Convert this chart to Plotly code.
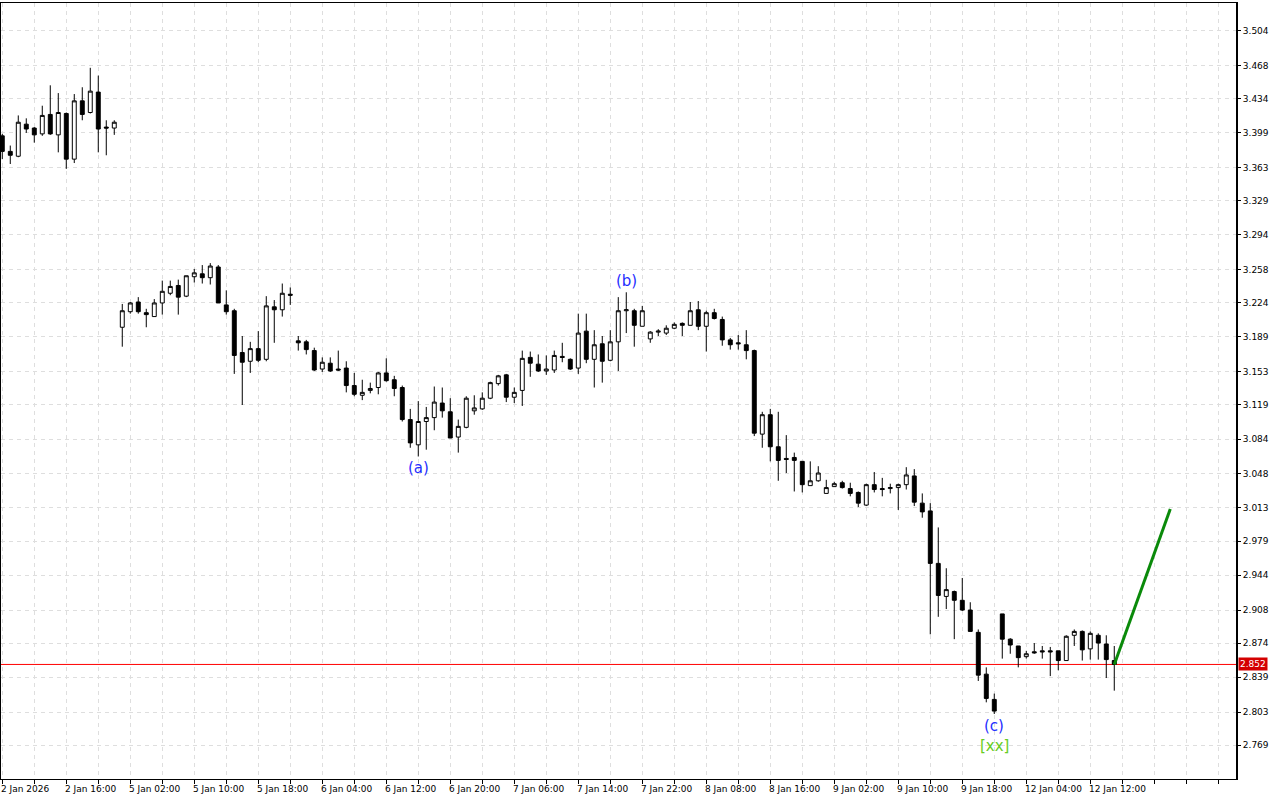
import plotly.graph_objects as go
import pandas as pd

# ---------------- data ----------------
sessions = [("2026-01-02", 8, 22), ("2026-01-05", 1, 22), ("2026-01-06", 1, 22),
            ("2026-01-07", 1, 22), ("2026-01-08", 1, 22), ("2026-01-09", 1, 22),
            ("2026-01-12", 1, 15)]

opens = [3.396, 3.380, 3.375, 3.408, 3.404, 3.398, 3.418, 3.397, 3.419, 3.372,
         3.432, 3.420, 3.441, 3.405, 3.404, 3.199, 3.215, 3.225, 3.214, 3.210,
         3.224, 3.234, 3.242, 3.231, 3.251, 3.254, 3.250, 3.261, 3.222, 3.216,
         3.173, 3.164, 3.177, 3.166, 3.220, 3.217, 3.233, 3.185, 3.184, 3.175,
         3.156, 3.162, 3.156, 3.157, 3.139, 3.129, 3.134, 3.137, 3.152, 3.145,
         3.137, 3.104, 3.078, 3.102, 3.106, 3.121, 3.112, 3.086, 3.096, 3.113,
         3.115, 3.126, 3.141, 3.150, 3.127, 3.134, 3.168, 3.161, 3.154, 3.155,
         3.169, 3.166, 3.157, 3.195, 3.166, 3.182, 3.165, 3.184, 3.216, 3.216,
         3.200, 3.187, 3.194, 3.193, 3.198, 3.203, 3.201, 3.217, 3.200, 3.214,
         3.207, 3.186, 3.183, 3.181, 3.175, 3.089, 3.109, 3.076, 3.064, 3.065,
         3.061, 3.036, 3.041, 3.028, 3.035, 3.039, 3.033, 3.029, 3.016, 3.037,
         3.033, 3.033, 3.034, 3.037, 3.046, 3.018, 3.010, 2.956, 2.922, 2.927,
         2.918, 2.908, 2.885, 2.842, 2.816, 2.904, 2.878, 2.871, 2.860, 2.865,
         2.866, 2.866, 2.866, 2.856, 2.882, 2.886, 2.868, 2.882, 2.873, 2.856]
highs = [3.398, 3.386, 3.417, 3.414, 3.405, 3.427, 3.448, 3.440, 3.420, 3.439,
         3.446, 3.466, 3.458, 3.412, 3.412, 3.223, 3.225, 3.230, 3.218, 3.228,
         3.247, 3.247, 3.248, 3.252, 3.259, 3.263, 3.265, 3.263, 3.237, 3.218,
         3.190, 3.184, 3.195, 3.231, 3.227, 3.244, 3.240, 3.190, 3.186, 3.178,
         3.168, 3.168, 3.175, 3.164, 3.152, 3.145, 3.142, 3.153, 3.167, 3.149,
         3.139, 3.115, 3.123, 3.117, 3.138, 3.137, 3.126, 3.104, 3.128, 3.129,
         3.132, 3.143, 3.150, 3.151, 3.137, 3.175, 3.174, 3.171, 3.170, 3.175,
         3.183, 3.167, 3.213, 3.213, 3.196, 3.190, 3.196, 3.230, 3.235, 3.218,
         3.221, 3.195, 3.197, 3.201, 3.204, 3.204, 3.225, 3.226, 3.216, 3.218,
         3.210, 3.188, 3.191, 3.196, 3.176, 3.112, 3.115, 3.112, 3.088, 3.070,
         3.061, 3.061, 3.056, 3.042, 3.040, 3.041, 3.039, 3.030, 3.038, 3.050,
         3.044, 3.038, 3.038, 3.055, 3.053, 3.028, 3.018, 2.993, 2.951, 2.928,
         2.941, 2.916, 2.888, 2.849, 2.822, 2.904, 2.879, 2.871, 2.866, 2.874,
         2.871, 2.870, 2.866, 2.882, 2.888, 2.887, 2.886, 2.884, 2.882, 2.871]
lows = [3.372, 3.367, 3.374, 3.399, 3.389, 3.396, 3.397, 3.379, 3.362, 3.368,
        3.412, 3.419, 3.379, 3.376, 3.397, 3.179, 3.213, 3.213, 3.199, 3.210,
        3.212, 3.232, 3.212, 3.230, 3.245, 3.244, 3.243, 3.224, 3.212, 3.151,
        3.119, 3.152, 3.163, 3.164, 3.183, 3.210, 3.222, 3.175, 3.171, 3.154,
        3.153, 3.153, 3.154, 3.132, 3.128, 3.124, 3.131, 3.130, 3.143, 3.128,
        3.102, 3.075, 3.066, 3.073, 3.093, 3.106, 3.085, 3.070, 3.095, 3.109,
        3.114, 3.125, 3.139, 3.122, 3.121, 3.118, 3.148, 3.153, 3.150, 3.152,
        3.163, 3.155, 3.151, 3.162, 3.137, 3.142, 3.164, 3.154, 3.193, 3.179,
        3.200, 3.183, 3.190, 3.191, 3.197, 3.190, 3.201, 3.196, 3.174, 3.207,
        3.180, 3.176, 3.176, 3.166, 3.087, 3.075, 3.061, 3.041, 3.049, 3.030,
        3.029, 3.036, 3.040, 3.028, 3.035, 3.033, 3.025, 3.014, 3.015, 3.029,
        3.025, 3.028, 3.011, 3.032, 3.015, 3.003, 2.883, 2.901, 2.909, 2.878,
        2.907, 2.886, 2.835, 2.813, 2.801, 2.858, 2.863, 2.849, 2.858, 2.863,
        2.858, 2.840, 2.846, 2.856, 2.871, 2.856, 2.857, 2.857, 2.838, 2.825]
closes = [3.380, 3.376, 3.410, 3.403, 3.397, 3.417, 3.398, 3.420, 3.372, 3.432,
          3.418, 3.442, 3.403, 3.404, 3.410, 3.216, 3.224, 3.215, 3.212, 3.224,
          3.236, 3.241, 3.230, 3.252, 3.255, 3.250, 3.262, 3.224, 3.215, 3.170,
          3.163, 3.177, 3.165, 3.221, 3.217, 3.234, 3.232, 3.183, 3.176, 3.155,
          3.163, 3.154, 3.155, 3.139, 3.130, 3.132, 3.136, 3.152, 3.144, 3.136,
          3.104, 3.080, 3.102, 3.106, 3.122, 3.113, 3.085, 3.097, 3.126, 3.116,
          3.126, 3.142, 3.149, 3.127, 3.132, 3.167, 3.162, 3.154, 3.156, 3.170,
          3.168, 3.156, 3.193, 3.166, 3.181, 3.164, 3.184, 3.216, 3.217, 3.201,
          3.216, 3.194, 3.195, 3.198, 3.202, 3.201, 3.216, 3.200, 3.214, 3.208,
          3.186, 3.181, 3.182, 3.175, 3.090, 3.109, 3.076, 3.062, 3.063, 3.062,
          3.037, 3.041, 3.049, 3.034, 3.038, 3.034, 3.028, 3.018, 3.037, 3.032,
          3.032, 3.034, 3.037, 3.047, 3.019, 3.009, 2.956, 2.923, 2.929, 2.918,
          2.908, 2.886, 2.841, 2.817, 2.804, 2.878, 2.872, 2.859, 2.863, 2.864,
          2.865, 2.865, 2.856, 2.881, 2.886, 2.867, 2.884, 2.874, 2.857, 2.852]

price_ticks = [3.504, 3.468, 3.434, 3.399, 3.363, 3.329, 3.294, 3.258, 3.224, 3.189,
               3.153, 3.119, 3.084, 3.048, 3.013, 2.979, 2.944, 2.908, 2.874, 2.839,
               2.803, 2.769]

# wave labels: text, bar index, anchor ("high"/"low"), colour
wave_labels = [("(a)", 52, "low", "#1f2fff"), ("(b)", 78, "high", "#1f2fff"),
               ("(c)", 124, "low", "#1f2fff"), ("[xx]", 124, "low2", "#66cc22")]

forecast_target = 3.012
forecast_bars = 7

# ---------------- build ----------------
times = []
for day, h0, h1 in sessions:
    for h in range(h0, h1 + 1):
        times.append(pd.Timestamp(day) + pd.Timedelta(hours=h))
n = len(times)
idx = list(range(n))

fig = go.Figure()
fig.add_trace(go.Candlestick(
    x=idx, open=opens, high=highs, low=lows, close=closes,
    increasing=dict(line=dict(color="black", width=1), fillcolor="white"),
    decreasing=dict(line=dict(color="black", width=1), fillcolor="black"),
    whiskerwidth=0, hoverinfo="skip", showlegend=False))

# forecast line
fig.add_trace(go.Scatter(x=[n - 1, n - 1 + forecast_bars], y=[closes[-1], forecast_target],
                         mode="lines", line=dict(color="#0a8a0a", width=3),
                         hoverinfo="skip", showlegend=False))

grid_vals = list(range(0, 156, 4))
font = dict(family="DejaVu Sans", size=9, color="black")

annotations = []
for i in range(0, n, 8):
    t = times[i]
    if i == 0:
        txt = f"{t.day} {t:%b} {t.year}"
    else:
        txt = f"{t.day} {t:%b} {t:%H:%M}"
    annotations.append(dict(x=i, y=0, xref="x", yref="paper", text=txt, showarrow=False,
                            xanchor="left", yanchor="top", xshift=-3, yshift=-3, font=font))

for txt, i, where, col in wave_labels:
    if where == "high":
        annotations.append(dict(x=i, y=highs[i], text=txt, showarrow=False, yanchor="bottom",
                                yshift=0, font=dict(family="DejaVu Sans", size=15, color=col)))
    elif where == "low":
        annotations.append(dict(x=i, y=lows[i], text=txt, showarrow=False, yanchor="top",
                                yshift=-1, font=dict(family="DejaVu Sans", size=15, color=col)))
    else:
        annotations.append(dict(x=i, y=lows[i], text=txt, showarrow=False, yanchor="top",
                                yshift=-21, font=dict(family="DejaVu Sans", size=15, color=col)))

annotations.append(dict(x=1, xref="paper", y=closes[-1], text=f"{closes[-1]:.3f}", showarrow=False,
                        xanchor="left", xshift=1, bgcolor="#d40000", borderpad=1,
                        font=dict(family="DejaVu Sans", size=9, color="white")))

fig.update_layout(
    width=1280, height=800,
    margin=dict(l=1, r=43, t=3, b=21),
    paper_bgcolor="white", plot_bgcolor="white",
    showlegend=False,
    annotations=annotations,
    shapes=[
        dict(type="line", xref="paper", x0=0, x1=1, yref="y", y0=closes[-1], y1=closes[-1],
             line=dict(color="#ff0000", width=1), layer="below"),
        dict(type="line", xref="paper", x0=1, x1=1, yref="paper", y0=0, y1=1,
             line=dict(color="black", width=2)),
    ],
)
fig.update_xaxes(
    range=[-0.16, 154.34], rangeslider_visible=False,
    tickmode="array", tickvals=grid_vals, showticklabels=False,
    ticks="outside", ticklen=4, tickcolor="black",
    showgrid=True, gridcolor="#dedede", griddash="4px,4px", gridwidth=1,
    showline=True, linecolor="black", linewidth=1, mirror=True, zeroline=False)
fig.update_yaxes(
    side="right", range=[2.7341, 3.5327],
    tickmode="array", tickvals=price_ticks, ticktext=[f"{v:.3f}" for v in price_ticks],
    ticks="outside", ticklen=3, tickcolor="black", tickfont=font,
    showgrid=True, gridcolor="#dedede", griddash="4px,4px", gridwidth=1,
    showline=True, linecolor="black", linewidth=1, mirror=True, zeroline=False)

fig.write_html("out.html", config={"displayModeBar": False},
               post_script="document.body.style.margin='0';document.body.style.overflow='hidden';")
